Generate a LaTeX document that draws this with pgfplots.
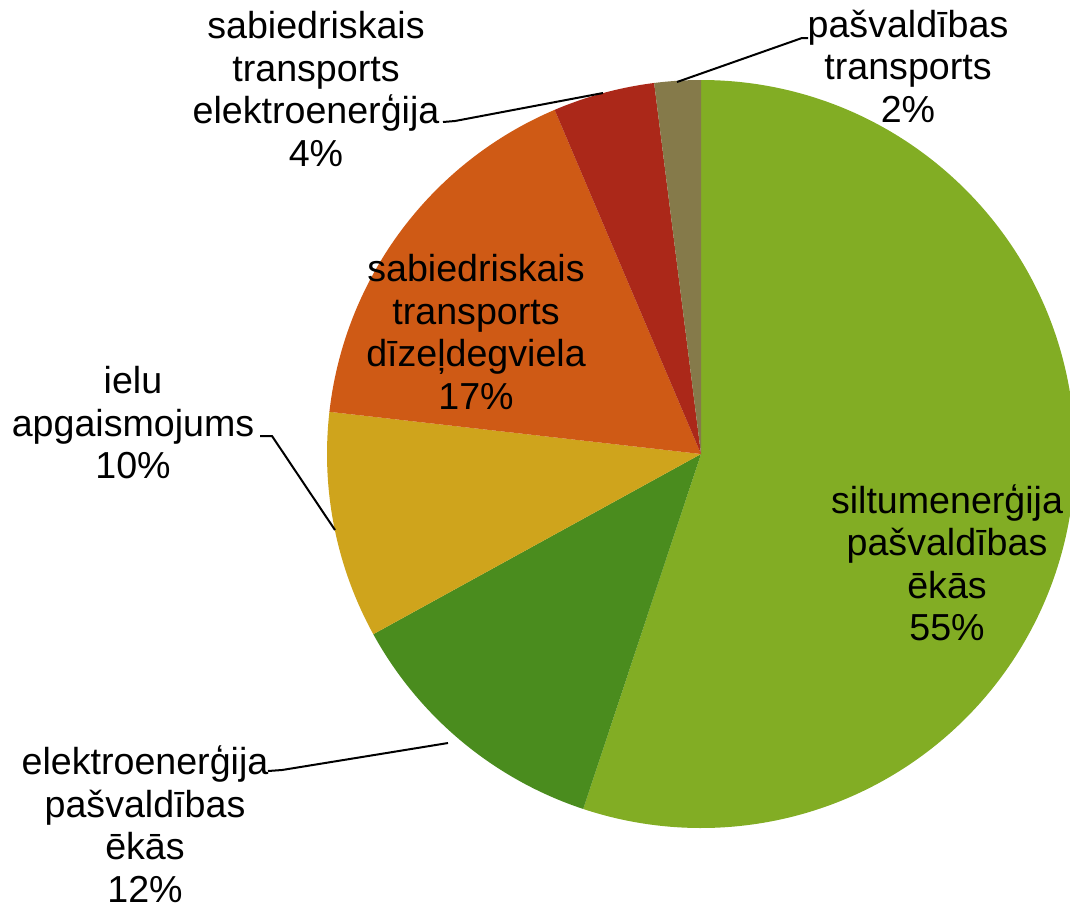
\documentclass[border=0pt]{standalone}
\usepackage{fontspec}
\setmainfont{Liberation Sans}
\usepackage{pgfplots}
\usepackage{pgfplotstable}
\pgfplotsset{compat=1.18}

\definecolor{cA}{RGB}{130,173,36}
\definecolor{cB}{RGB}{74,140,30}
\definecolor{cC}{RGB}{207,164,28}
\definecolor{cD}{RGB}{207,90,21}
\definecolor{cE}{RGB}{171,40,25}
\definecolor{cF}{RGB}{133,122,74}

% shares in percent, clockwise from 12 o'clock
\pgfplotstableread{
share color
55.1 cA
11.9 cB
9.8 cC
16.8 cD
4.4 cE
2.0 cF
}\piedata

\begin{document}
\begin{tikzpicture}
\begin{axis}[
    x=0.5pt, y=0.5pt,
    xmin=0, xmax=1070, ymin=0, ymax=907,
    y dir=reverse,
    hide axis,
    clip=true,
]
    \pgfmathsetmacro\cum{0}
    \pgfplotsforeachungrouped \i in {0,...,5}{%
        \pgfplotstablegetelem{\i}{share}\of\piedata \let\v=\pgfplotsretval
        \pgfplotstablegetelem{\i}{color}\of\piedata \let\c=\pgfplotsretval
        \pgfmathsetmacro\a{90-3.6*\cum}%
        \pgfmathsetmacro\b{90-3.6*(\cum+\v)}%
        \pgfmathsetmacro\cum{\cum+\v}%
        \edef\cmd{\noexpand\fill[\c] (axis cs:701,454) -- +(\a:187pt)
            arc[start angle=\a, end angle=\b, radius=187pt] -- cycle;}%
        \cmd
    }

    % leader lines
    \draw[line width=1pt] (axis cs:677,82) -- (axis cs:802,38) -- (axis cs:808,38);
    \draw[line width=1pt] (axis cs:603,93) -- (axis cs:455,121) -- (axis cs:443,122);
    \draw[line width=1pt] (axis cs:335,530) -- (axis cs:272,436) -- (axis cs:260,436);
    \draw[line width=1pt] (axis cs:448,743) -- (axis cs:282,770) -- (axis cs:268,771);

    \tikzset{lbl/.style={align=center, inner sep=0pt,
        font=\fontsize{18.8}{21.25}\selectfont}}
    \node[lbl] at (axis cs:947,563) {siltumenerģija\\pašvaldības\\ēkās\\55\%};
    \node[lbl] at (axis cs:145,824) {elektroenerģija\\pašvaldības\\ēkās\\12\%};
    \node[lbl] at (axis cs:133,423) {ielu\\apgaismojums\\10\%};
    \node[lbl] at (axis cs:476,332) {sabiedriskais\\transports\\dīzeļdegviela\\17\%};
    \node[lbl] at (axis cs:316,89) {sabiedriskais\\transports\\elektroenerģija\\4\%};
    \node[lbl] at (axis cs:908,66) {pašvaldības\\transports\\2\%};
\end{axis}
\pgfresetboundingbox
\useasboundingbox (current axis.south west) rectangle (current axis.north east);
\end{tikzpicture}
\end{document}
